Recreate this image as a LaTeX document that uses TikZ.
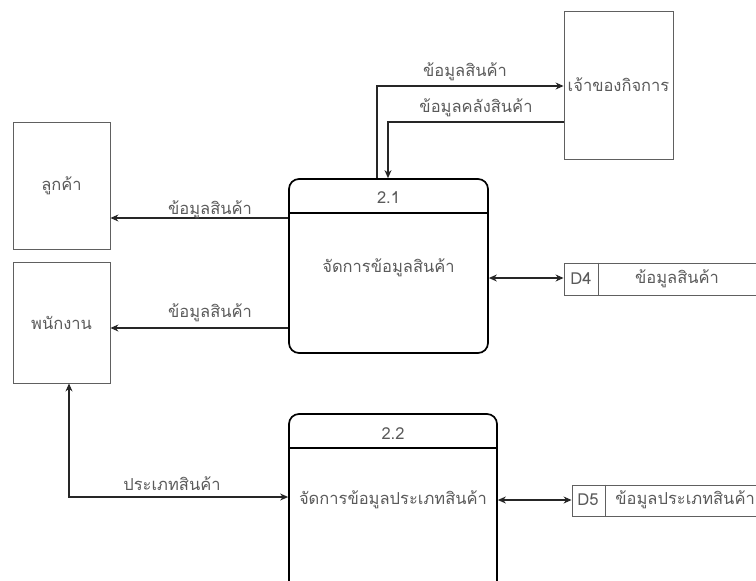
\documentclass[tikz,border=0pt]{standalone}
\usepackage{fontspec}
\newfontfamily\thaifont[Script=Thai]{Loma}
\usetikzlibrary{arrows.meta,calc}
\definecolor{txt}{HTML}{5A5A5A}
\definecolor{ebord}{HTML}{606060}
\begin{document}
\begin{tikzpicture}[x=1pt,y=-1pt,
  every node/.style={font=\thaifont\fontsize{16.5}{19}\selectfont, text=txt, inner sep=0pt},
  entity/.style={draw=ebord, line width=0.9pt, fill=white},
  proc/.style={draw=black, line width=1.7pt, rounded corners=10pt},
  store/.style={draw=ebord, line width=0.9pt},
  flow/.style={draw=black!85, line width=1.1pt, -{Stealth[length=8pt,width=7pt]}},
  biflow/.style={draw=black!85, line width=1.1pt, {Stealth[length=8pt,width=7pt]}-{Stealth[length=8pt,width=7pt]}},
  lbl/.style={fill=none}]
\useasboundingbox (0,0) rectangle (756,581);
% entities
\node[entity, minimum width=109pt, minimum height=148pt] (owner) at (618.5,85) {เจ้าของกิจการ};
\node[entity, minimum width=97pt, minimum height=127pt] (cust) at (61.5,185.5) {ลูกค้า};
\node[entity, minimum width=97pt, minimum height=121pt] (emp) at (61.5,322.5) {พนักงาน};
% processes
\node[proc, minimum width=199pt, minimum height=174pt] (p21) at (388.5,266) {};
\draw[black, line width=1.5pt] (p21.west |- 0,213) -- (p21.east |- 0,213);
\node (p21n) at (388.5,198) {2.1};
\node (p21t) at (388.5,268) {จัดการข้อมูลสินค้า};
\node[proc, minimum width=208pt, minimum height=186pt] (p22) at (393,507) {};
\draw[black, line width=1.5pt] (p22.west |- 0,448) -- (p22.east |- 0,448);
\node (p22n) at (393,434) {2.2};
\node (p22t) at (393,500) {จัดการข้อมูลประเภทสินค้า};
% data stores
\node[store, minimum width=194pt, minimum height=32pt] (d4) at (661,279) {};
\draw[ebord, line width=0.9pt] (598,0 |- d4.north) -- (598,0 |- d4.south);
\node (d4id) at (581,279) {D4};
\node (d4t) at (677,279) {ข้อมูลสินค้า};
\node[store, minimum width=188pt, minimum height=31pt] (d5) at (666,500.5) {};
\draw[ebord, line width=0.9pt] (605,0 |- d5.north) -- (605,0 |- d5.south);
\node (d5id) at (588,500) {D5};
\node[anchor=east] (d5t) at (755,500) {ข้อมูลประเภทสินค้า};
% flows
\coordinate (a1s) at (377,0 |- p21.north);
\coordinate (a1c) at (377,86);
\draw[flow] (a1s) -- (a1c) -- (owner.west |- a1c);
\node (l1) at (465,72) {ข้อมูลสินค้า};
\coordinate (a2s) at (owner.west |- 0,122);
\coordinate (a2c) at (388,122);
\draw[flow] (a2s) -- (a2c) -- (388,0 |- p21.north);
\node (l2) at (476,108) {ข้อมูลคลังสินค้า};
\draw[flow] (p21.west |- 0,218) -- (cust.east |- 0,218);
\node (l3) at (210,210) {ข้อมูลสินค้า};
\draw[flow] (p21.west |- 0,328) -- (emp.east |- 0,328);
\node (l4) at (210,313) {ข้อมูลสินค้า};
\draw[biflow] (p21.east |- 0,278) -- (d4.west |- 0,278);
\coordinate (a6c) at (69,497);
\draw[biflow] (emp.south -| a6c) -- (a6c) -- (p22.west |- a6c);
\node (l6) at (172,484) {ประเภทสินค้า};
\draw[biflow] (p22.east |- 0,500) -- (d5.west |- 0,500);
\end{tikzpicture}
\end{document}
